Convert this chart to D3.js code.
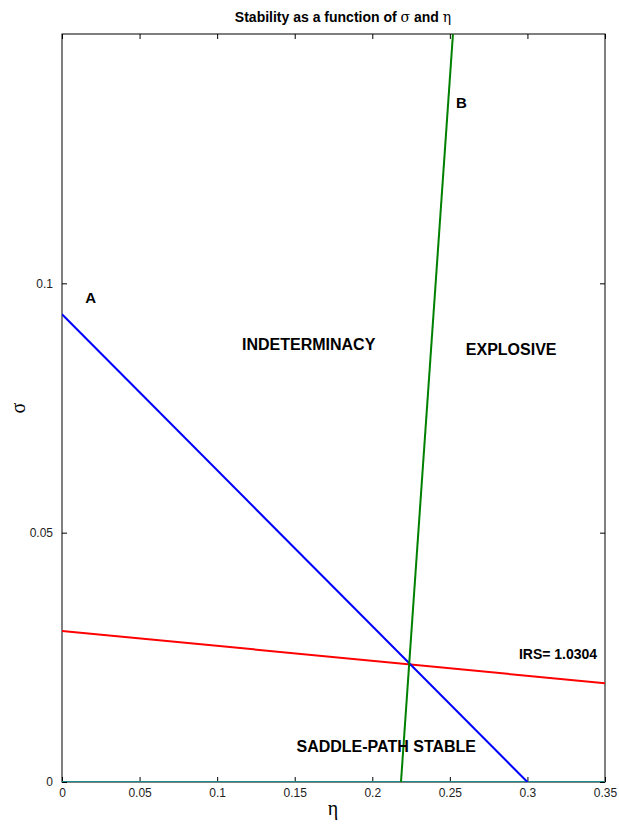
<!DOCTYPE html>
<html>
<head>
<meta charset="utf-8">
<script src="https://cdn.jsdelivr.net/npm/d3@7"></script>
<style>
  body { margin: 0; background: white; }
  svg { font-family: "Liberation Sans", Arial, sans-serif; }
</style>
</head>
<body>
<script>
// データ (eta, sigma)
const curveA = [[0, 0.0938], [0.3, 0]];
const curveB = [[0.2185, 0], [0.252, 0.15]];
const curveIRS = [[0, 0.0303], [0.35, 0.0198]];
const curveZero = [[0, 0], [0.35, 0]];
const xTicks = [0, 0.05, 0.1, 0.15, 0.2, 0.25, 0.3, 0.35];
const yTicks = [0, 0.05, 0.1];
const regionLabels = [
  { text: "A", eta: 0.0185, sigma: 0.0969 },
  { text: "B", eta: 0.2575, sigma: 0.1359 },
  { text: "INDETERMINACY", eta: 0.159, sigma: 0.0874 },
  { text: "EXPLOSIVE", eta: 0.2895, sigma: 0.0864 },
  { text: "SADDLE-PATH STABLE", eta: 0.209, sigma: 0.0069 }
];

const width = 619, height = 826;
const margin = { top: 34, right: 14, bottom: 44, left: 62 };

const svg = d3.select("body").append("svg")
  .attr("width", width)
  .attr("height", height);

const x = d3.scaleLinear().domain([0, 0.35]).range([margin.left, width - margin.right]);
const y = d3.scaleLinear().domain([0, 0.15]).range([height - margin.bottom, margin.top]);

// 枠
svg.append("rect")
  .attr("x", x(0)).attr("y", y(0.15))
  .attr("width", x(0.35) - x(0)).attr("height", y(0) - y(0.15))
  .attr("fill", "none").attr("stroke", "#000").attr("stroke-width", 1);

// 軸 (内向き目盛り)
const fmt = d => d === 0 ? "0" : String(+d.toFixed(2));
const xb = svg.append("g").attr("transform", `translate(0,${y(0)})`)
  .call(d3.axisBottom(x).tickValues(xTicks).tickSize(-5).tickPadding(6).tickFormat(fmt));
const xt = svg.append("g").attr("transform", `translate(0,${y(0.15)})`)
  .call(d3.axisTop(x).tickValues(xTicks).tickSize(-5).tickFormat(""));
const yl = svg.append("g").attr("transform", `translate(${x(0)},0)`)
  .call(d3.axisLeft(y).tickValues(yTicks).tickSize(-5).tickPadding(9).tickFormat(fmt));
const yr = svg.append("g").attr("transform", `translate(${x(0.35)},0)`)
  .call(d3.axisRight(y).tickValues(yTicks).tickSize(-5).tickFormat(""));
[xb, xt, yl, yr].forEach(g => {
  g.select(".domain").remove();
  g.selectAll("line").attr("stroke", "#000");
  g.selectAll("text").attr("font-size", "12px").attr("fill", "#222")
    .attr("font-family", "'Liberation Sans', Arial, sans-serif");
});

// 曲線
const line = d3.line().x(d => x(d[0])).y(d => y(d[1]));
svg.append("clipPath").attr("id", "plot")
  .append("rect")
  .attr("x", x(0)).attr("y", y(0.15))
  .attr("width", x(0.35) - x(0)).attr("height", y(0) - y(0.15));
const plot = svg.append("g").attr("clip-path", "url(#plot)");
[
  { data: curveZero, color: "#1a8a8a" },
  { data: curveIRS, color: "#ff0000" },
  { data: curveA, color: "#0000ff" },
  { data: curveB, color: "#008000" }
].forEach(c => {
  plot.append("path")
    .attr("d", line(c.data))
    .attr("fill", "none")
    .attr("stroke", c.color)
    .attr("stroke-width", 2);
});

// 領域ラベル
regionLabels.forEach(l => {
  svg.append("text")
    .attr("x", x(l.eta)).attr("y", y(l.sigma))
    .attr("text-anchor", "middle")
    .attr("dominant-baseline", "middle")
    .attr("font-size", l.text.length === 1 ? "15px" : "16px")
    .attr("font-weight", "bold")
    .attr("fill", "#000")
    .text(l.text);
});

svg.append("text")
  .attr("x", 558).attr("y", 655)
  .attr("text-anchor", "middle")
  .attr("dominant-baseline", "middle")
  .attr("font-size", "14px")
  .attr("font-weight", "bold")
  .attr("fill", "#000")
  .text("IRS= 1.0304");

// タイトル
const title = svg.append("text")
  .attr("x", 343).attr("y", 22)
  .attr("text-anchor", "middle")
  .attr("font-size", "14px")
  .attr("font-weight", "bold")
  .attr("fill", "#000");
title.append("tspan").text("Stability as a function of  ");
title.append("tspan").attr("font-weight", "normal").attr("fill", "#000")
  .attr("font-family", "'DejaVu Serif', 'Liberation Serif', serif").text("σ");
title.append("tspan").text(" and ");
title.append("tspan").attr("font-weight", "normal").attr("fill", "#000")
  .attr("font-family", "'DejaVu Serif', 'Liberation Serif', serif").text("η");

// 軸ラベル
svg.append("text")
  .attr("x", 333).attr("y", 815)
  .attr("text-anchor", "middle")
  .attr("font-size", "20px")
  .attr("fill", "#000")
  .attr("font-family", "'Liberation Serif', 'DejaVu Serif', serif")
  .text("η");

svg.append("text")
  .attr("transform", `translate(25,${(y(0) + y(0.15)) / 2}) rotate(-90)`)
  .attr("text-anchor", "middle")
  .attr("font-size", "20px")
  .attr("fill", "#000")
  .attr("font-family", "'Liberation Serif', 'DejaVu Serif', serif")
  .text("σ");
</script>
</body>
</html>
